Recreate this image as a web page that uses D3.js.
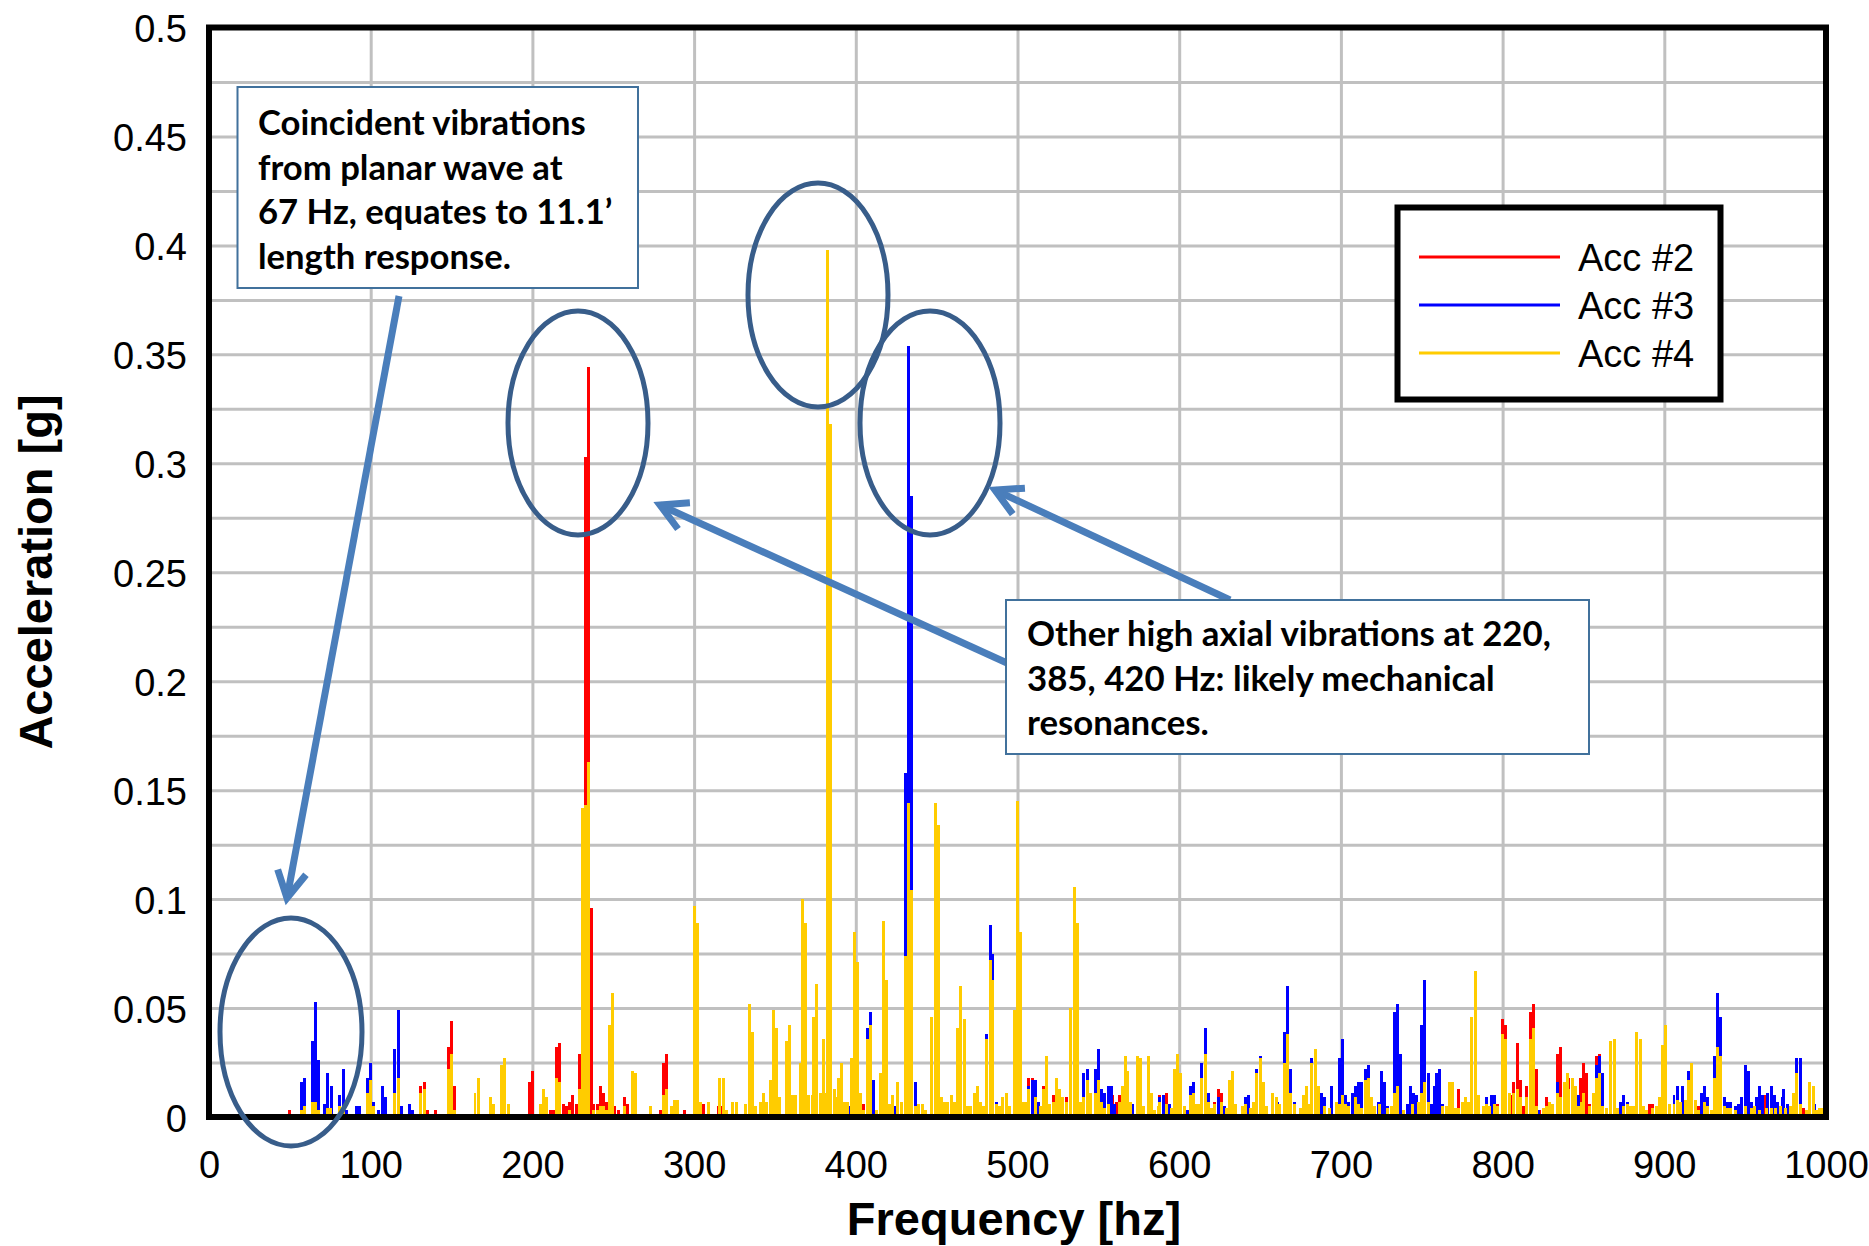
<!DOCTYPE html>
<html>
<head>
<meta charset="utf-8">
<script src="https://cdn.jsdelivr.net/npm/d3@7"></script>
<style>
  html, body { margin: 0; padding: 0; background: #fff; }
  svg { display: block; }
  .tick-label { font-family: "Liberation Sans", Arial, sans-serif; font-size: 38px; fill: #000; }
  .axis-title { font-family: "Liberation Sans", Arial, sans-serif; font-weight: bold; font-size: 47px; fill: #000; }
  .note { font-family: Lato, "Open Sans", sans-serif; font-weight: bold; fill: #000; }
</style>
</head>
<body>
<svg id="chart" width="1869" height="1246"></svg>
<script>
// ---- Spectrum data: [frequency (Hz), acceleration (g)] ----
const acc2 = [
  [50,0.003],[64,0.026],[65,0.026],[71.5,0.006],[73,0.004],[100,0.005],[131,0.014],[133,0.016],[135,0.003],[140,0.003],
  [148,0.032],[150,0.044],[152,0.014],[183,0.006],[198,0.016],[200,0.021],[209,0.003],[211,0.003],[213,0.003],[215,0.032],
  [217,0.034],[219,0.006],[221,0.005],[223,0.007],[225,0.010],[227,0.006],[229,0.029],[232.8,0.303],[234.7,0.344],[236.5,0.096],
  [238,0.006],[240,0.006],[242,0.014],[244,0.011],[246,0.007],[248,0.005],[251,0.005],[253,0.003],[257,0.009],[259,0.006],
  [264,0.004],[279,0.003],[281,0.025],[283,0.029],[290,0.006],[294,0.003],[304,0.005],[306,0.006],[315,0.005],[317,0.005],
  [349,0.009],[362,0.003],[367,0.013],[371,0.003],[376,0.020],[378,0.005],[382.5,0.018],[384.5,0.011],[387,0.007],[388,0.006],
  [389,0.007],[405,0.006],[407,0.009],[409,0.016],[413,0.003],[432.5,0.158],[441,0.003],[449,0.038],[463,0.017],[507,0.018],
  [509,0.018],[516,0.014],[522,0.010],[524,0.010],[528,0.009],[530,0.009],[535,0.042],[550,0.020],[559,0.010],[561,0.007],
  [563,0.010],[581,0.010],[583,0.006],[588,0.010],[590,0.010],[592,0.011],[622,0.007],[624,0.013],[626,0.011],[684,0.014],
  [735,0.029],[752,0.020],[773,0.013],[779,0.006],[783,0.009],[793,0.009],[795,0.009],[797,0.006],[800,0.045],[802,0.042],
  [805,0.010],[807,0.016],[809,0.034],[811,0.017],[813,0.005],[815,0.014],[817,0.048],[819,0.052],[821,0.022],[823,0.003],
  [827,0.009],[834,0.029],[836,0.032],[838,0.009],[841,0.018],[848,0.018],[850,0.025],[852,0.020],[854,0.006],[858,0.028],
  [860,0.029],[875,0.007],[891,0.006],[893,0.006],[921,0.005],[923,0.005],[933,0.014],[950,0.009],[952,0.007],[962,0.010],
  [982,0.013],[986,0.004],[996,0.003]
];

const acc3 = [
  [57,0.016],[59,0.018],[64,0.035],[66,0.053],[68,0.026],[71.5,0.006],[73.5,0.020],[75.5,0.014],[81,0.010],[83,0.022],
  [85,0.003],[91,0.005],[93,0.005],[98,0.018],[100,0.025],[102,0.007],[105,0.003],[107,0.014],[109,0.009],[115,0.031],
  [117,0.049],[119,0.005],[124,0.006],[126,0.003],[148,0.009],[150,0.009],[174,0.003],[207,0.006],[229,0.003],[231,0.013],
  [233,0.039],[249,0.003],[262,0.005],[264,0.005],[290,0.005],[302,0.007],[326,0.003],[334,0.006],[336,0.003],[343,0.005],
  [345,0.003],[349,0.017],[351,0.007],[359,0.014],[362,0.005],[366,0.003],[367,0.025],[369,0.007],[371,0.007],[373,0.007],
  [374,0.006],[376,0.034],[378,0.009],[382.5,0.039],[384.5,0.018],[387,0.006],[394,0.005],[396,0.005],[399.5,0.027],[401,0.007],
  [403,0.007],[407,0.041],[409,0.048],[411,0.017],[417,0.020],[419,0.006],[421,0.006],[424,0.005],[426,0.011],[428,0.005],
  [430.5,0.158],[432.5,0.354],[434.5,0.285],[437,0.016],[439,0.005],[447,0.046],[449,0.046],[451,0.007],[455,0.007],[457,0.003],
  [461,0.003],[463,0.016],[474,0.003],[477,0.003],[481,0.038],[483,0.088],[484.5,0.075],[487,0.007],[493,0.005],[498,0.003],
  [500,0.049],[507,0.014],[509,0.017],[511,0.017],[513,0.007],[518,0.011],[535,0.049],[539,0.007],[541,0.020],[543,0.022],
  [545,0.009],[548,0.022],[550,0.031],[552,0.013],[554,0.011],[556,0.014],[558,0.014],[560,0.006],[566,0.011],[571,0.006],
  [574,0.011],[581,0.011],[588,0.009],[590,0.010],[594,0.006],[599,0.016],[603,0.005],[605,0.003],[607,0.014],[609,0.016],
  [612,0.003],[614,0.025],[616.5,0.041],[618,0.011],[624,0.009],[628,0.005],[641,0.009],[643,0.010],[646,0.005],[648,0.022],
  [650,0.028],[658,0.006],[661,0.007],[665,0.039],[667,0.060],[669,0.022],[671,0.007],[677,0.005],[682,0.027],[684,0.031],
  [688,0.011],[690,0.009],[694,0.014],[699,0.027],[701,0.036],[703,0.010],[705,0.007],[707,0.011],[709,0.014],[711,0.016],
  [713,0.016],[715,0.022],[717,0.024],[721,0.005],[723,0.007],[725,0.021],[727,0.016],[729,0.005],[733,0.048],[735,0.052],
  [737,0.029],[741,0.006],[743,0.014],[745,0.011],[747,0.010],[748,0.006],[750,0.042],[752,0.063],[754,0.020],[756,0.006],
  [758,0.014],[759,0.020],[761,0.022],[763,0.006],[766,0.003],[777,0.005],[783,0.010],[785,0.010],[790,0.009],[793,0.010],
  [795,0.010],[802,0.011],[807,0.003],[822,0.003],[834,0.016],[847,0.010],[856,0.006],[858,0.024],[860,0.028],[862,0.020],
  [873,0.007],[875,0.010],[877,0.007],[883,0.006],[885,0.004],[895,0.005],[899,0.010],[901,0.007],[906,0.010],[908,0.014],
  [911,0.014],[915,0.021],[917,0.025],[923,0.011],[925,0.014],[927,0.009],[931,0.028],[933,0.057],[935,0.046],[937,0.009],
  [939,0.007],[941,0.007],[944,0.005],[946,0.006],[948,0.009],[950,0.024],[952,0.021],[954,0.007],[957,0.009],[959,0.014],
  [961,0.010],[964,0.011],[966,0.014],[968,0.010],[970,0.007],[973,0.009],[974,0.013],[976,0.006],[982,0.027],[984,0.027],
  [993,0.006],[998,0.003]
];

const acc4 = [
  [57,0.003],[59,0.005],[64,0.007],[66,0.007],[68,0.003],[73,0.004],[75,0.004],[81,0.005],[83,0.005],[98,0.011],
  [100,0.017],[102,0.005],[115,0.011],[117,0.018],[131,0.011],[133,0.013],[148,0.022],[150,0.029],[152,0.003],[164.5,0.011],
  [166.5,0.018],[174,0.009],[176,0.006],[181,0.024],[183,0.027],[185,0.006],[205,0.006],[207,0.013],[209,0.009],[215,0.018],
  [217,0.016],[223,0.003],[229,0.013],[231,0.142],[232.8,0.143],[234.7,0.163],[238,0.003],[240,0.003],[242,0.005],[244,0.005],
  [246,0.003],[247.5,0.042],[249.5,0.057],[257,0.005],[262,0.021],[264,0.020],[273,0.005],[281,0.010],[283,0.013],[286,0.005],
  [288,0.008],[290,0.008],[300,0.097],[302,0.089],[304,0.007],[309,0.007],[316,0.018],[318,0.018],[320,0.003],[324,0.007],
  [326,0.007],[332,0.006],[334,0.052],[336,0.039],[338,0.005],[341,0.007],[343,0.011],[345,0.007],[347,0.017],[349,0.049],
  [351,0.041],[353,0.009],[357,0.035],[359,0.042],[361,0.010],[363,0.010],[366,0.025],[367,0.100],[369,0.089],[371,0.010],
  [373,0.010],[374,0.046],[376,0.061],[378,0.011],[380,0.036],[381,0.011],[382.5,0.398],[384.5,0.318],[387,0.013],[388,0.009],
  [389,0.018],[391,0.025],[393,0.007],[395,0.007],[397.5,0.027],[399.5,0.085],[401,0.071],[403,0.011],[405,0.003],[407,0.036],
  [409,0.042],[413,0.003],[415,0.020],[417,0.090],[419,0.063],[421,0.006],[423,0.010],[426,0.016],[428,0.007],[430.5,0.074],
  [432.5,0.144],[434.5,0.104],[437,0.005],[439,0.006],[441,0.006],[443,0.003],[447,0.046],[449,0.144],[451,0.134],[453,0.009],
  [455,0.007],[457,0.007],[459,0.010],[461,0.007],[463,0.041],[465,0.060],[467,0.045],[469,0.005],[471,0.005],[473.5,0.011],
  [475,0.014],[477,0.007],[479,0.005],[481,0.036],[483,0.072],[484.5,0.063],[487,0.006],[489,0.005],[491,0.009],[493,0.011],
  [495,0.005],[498,0.049],[500,0.145],[502,0.085],[504,0.007],[505,0.007],[507,0.013],[511,0.009],[514,0.005],[516,0.013],
  [518,0.028],[520,0.006],[522,0.007],[524,0.018],[526,0.013],[528,0.009],[530,0.007],[533,0.050],[535,0.1055],[537,0.089],
  [539,0.007],[541,0.009],[543,0.017],[545,0.011],[548,0.011],[550,0.017],[552,0.007],[554,0.004],[556,0.006],[563,0.007],
  [565,0.014],[566.5,0.028],[568,0.021],[570,0.007],[574,0.028],[576,0.027],[578,0.005],[581,0.028],[583,0.011],[585,0.003],
  [587,0.005],[588,0.007],[592,0.006],[595,0.004],[597,0.022],[599,0.029],[601,0.020],[603,0.005],[607,0.010],[609,0.011],
  [611,0.006],[612,0.006],[614,0.018],[616.5,0.029],[618,0.007],[620,0.004],[622,0.006],[626,0.007],[629,0.004],[631,0.017],
  [633,0.021],[635,0.006],[639,0.005],[641,0.006],[644,0.004],[646,0.007],[648,0.020],[650,0.027],[652,0.016],[654,0.005],
  [658,0.011],[660,0.009],[662,0.006],[665,0.025],[667,0.038],[669,0.011],[671,0.006],[675,0.004],[677,0.010],[679,0.014],
  [680,0.006],[682,0.025],[684,0.031],[686,0.014],[690,0.005],[693,0.004],[697,0.007],[699,0.006],[701,0.010],[703,0.006],
  [705,0.005],[709,0.009],[711,0.006],[713,0.004],[715,0.017],[717,0.018],[719,0.009],[721,0.005],[724,0.006],[729,0.004],
  [731,0.005],[733,0.011],[735,0.014],[739,0.003],[744,0.006],[748,0.007],[750,0.011],[752,0.016],[754,0.007],[763,0.005],
  [765,0.005],[767,0.016],[769,0.016],[771,0.004],[773,0.004],[775,0.007],[777,0.009],[779,0.007],[781,0.046],[783,0.067],
  [785,0.010],[788,0.005],[790,0.006],[792,0.005],[795,0.006],[797,0.005],[800,0.038],[802,0.036],[804,0.011],[807,0.011],
  [809,0.013],[811,0.009],[815,0.009],[817,0.036],[819,0.041],[821,0.005],[825,0.004],[827,0.005],[829,0.007],[831,0.006],
  [834,0.011],[836,0.009],[838,0.016],[840,0.020],[841,0.013],[843,0.018],[845,0.014],[847,0.005],[849,0.007],[850,0.011],
  [854,0.005],[856,0.011],[858,0.018],[860,0.020],[862,0.005],[864,0.004],[867,0.035],[869,0.036],[871,0.004],[875,0.005],
  [877,0.006],[879,0.005],[881,0.005],[883,0.039],[885,0.036],[887,0.005],[889,0.003],[893,0.004],[895,0.005],[897,0.009],
  [899,0.033],[901,0.042],[903,0.006],[906,0.006],[908,0.008],[910,0.007],[913,0.008],[915,0.017],[917,0.025],[919,0.008],
  [921,0.003],[925,0.007],[927,0.005],[929,0.003],[931,0.018],[933,0.032],[935,0.028],[937,0.005],[939,0.004],[941,0.004],
  [944,0.003],[950,0.005],[954,0.004],[956,0.005],[959,0.003],[963,0.004],[966,0.004],[969,0.004],[972,0.005],[975,0.004],
  [978,0.005],[980,0.011],[982,0.020],[984,0.006],[988,0.003],[990,0.016],[992,0.014],[994,0.003],[996,0.004],[998,0.004]
];

const seriesNames = ["Acc #2", "Acc #3", "Acc #4"];
const seriesColors = ["#ff0000", "#0000ff", "#ffcc00"];
const seriesData = [acc2, acc3, acc4];

const freqTicks = [0, 100, 200, 300, 400, 500, 600, 700, 800, 900, 1000];
const accelTicks = [0, 0.05, 0.1, 0.15, 0.2, 0.25, 0.3, 0.35, 0.4, 0.45, 0.5];
const accelGrid = d3.range(0, 0.5001, 0.025);

const noteLeft = ["Coincident vibrations", "from planar wave at", "67 Hz, equates to 11.1\u2019", "length response."];
const noteRight = ["Other high axial vibrations at 220,", "385, 420 Hz: likely mechanical", "resonances."];

// ---- Layout ----
const svg = d3.select("#chart");
const plot = { left: 209, right: 1826, top: 27.5, bottom: 1117 };
const x = d3.scaleLinear().domain([0, 1000]).range([plot.left, plot.right]);
const y = d3.scaleLinear().domain([0, 0.5]).range([plot.bottom, plot.top]);
const binWidth = 1.85; // spectral line width in Hz

svg.append("rect").attr("width", 1869).attr("height", 1246).attr("fill", "#fff");

// Gridlines
const grid = svg.append("g");
grid.append("g")
  .attr("transform", `translate(${plot.left},0)`)
  .call(d3.axisLeft(y).tickValues(accelGrid).tickSize(-(plot.right - plot.left)).tickFormat(""))
  .call(g => g.select(".domain").remove())
  .call(g => g.selectAll("line").attr("stroke", "#c0c0c0").attr("stroke-width", 3));
grid.append("g")
  .attr("transform", `translate(0,${plot.bottom})`)
  .call(d3.axisBottom(x).tickValues(freqTicks).tickSize(-(plot.bottom - plot.top)).tickFormat(""))
  .call(g => g.select(".domain").remove())
  .call(g => g.selectAll("line").attr("stroke", "#c0c0c0").attr("stroke-width", 3));

// Spectral lines, drawn Acc #2, #3, #4 in order
svg.append("clipPath").attr("id", "plotClip")
  .append("rect").attr("x", plot.left).attr("y", plot.top)
  .attr("width", plot.right - plot.left).attr("height", plot.bottom - plot.top);
const marks = svg.append("g").attr("clip-path", "url(#plotClip)");
const w = x(binWidth) - x(0);
seriesData.forEach((data, i) => {
  marks.append("g")
    .attr("fill", seriesColors[i])
    .attr("shape-rendering", "crispEdges")
    .selectAll("rect")
    .data(data)
    .join("rect")
    .attr("x", d => x(d[0]) - w / 2)
    .attr("width", w)
    .attr("y", d => y(d[1]))
    .attr("height", d => y(0) - y(d[1]));
});

// Plot frame
svg.append("rect")
  .attr("x", plot.left).attr("y", plot.top)
  .attr("width", plot.right - plot.left).attr("height", plot.bottom - plot.top)
  .attr("fill", "none").attr("stroke", "#000").attr("stroke-width", 6);

// Axis tick labels
svg.append("g")
  .attr("transform", `translate(${plot.left},0)`)
  .call(d3.axisLeft(y).tickValues(accelTicks).tickSize(0).tickPadding(22).tickFormat(d => String(+d.toFixed(2))))
  .call(g => g.select(".domain").remove())
  .call(g => g.selectAll("text").attr("class", "tick-label").attr("font-size", null).attr("font-family", null)
    .attr("dy", "14px"));
svg.append("g")
  .attr("transform", `translate(0,${plot.bottom})`)
  .call(d3.axisBottom(x).tickValues(freqTicks).tickSize(0).tickPadding(0).tickFormat(d => String(d)))
  .call(g => g.select(".domain").remove())
  .call(g => g.selectAll("text").attr("class", "tick-label").attr("font-size", null).attr("font-family", null)
    .attr("y", 61).attr("dy", 0));
svg.selectAll(".tick-label").attr("fill", "#000");

// Axis titles
svg.append("text").attr("class", "axis-title")
  .attr("x", 1014).attr("y", 1235).attr("text-anchor", "middle")
  .text("Frequency [hz]");
svg.append("text").attr("class", "axis-title")
  .attr("transform", "translate(52,572) rotate(-90)").attr("text-anchor", "middle")
  .text("Acceleration [g]");

// Legend
const legend = svg.append("g");
legend.append("rect").attr("x", 1397.5).attr("y", 207.5).attr("width", 323).attr("height", 192)
  .attr("fill", "#fff").attr("stroke", "#000").attr("stroke-width", 6);
seriesNames.forEach((name, i) => {
  const ly = 257 + i * 48;
  legend.append("line").attr("x1", 1419).attr("x2", 1560).attr("y1", ly).attr("y2", ly)
    .attr("stroke", seriesColors[i]).attr("stroke-width", 3);
  legend.append("text").attr("class", "tick-label").attr("x", 1578).attr("y", ly + 14).text(name);
});

// Callout ellipses
const ellipseColor = "#385d8a";
[[291, 1032, 71, 114], [578, 423, 70, 112], [818, 295, 70, 112], [930, 423, 70, 112]].forEach(e => {
  svg.append("ellipse").attr("cx", e[0]).attr("cy", e[1]).attr("rx", e[2]).attr("ry", e[3])
    .attr("fill", "none").attr("stroke", ellipseColor).attr("stroke-width", 5);
});

// Callout arrows with open heads
const arrowColor = "#4a7ebb";
function arrow(x1, y1, x2, y2) {
  const g = svg.append("g").attr("stroke", arrowColor).attr("stroke-width", 7)
    .attr("fill", "none").attr("stroke-linecap", "butt").attr("stroke-linejoin", "miter");
  g.append("line").attr("x1", x1).attr("y1", y1).attr("x2", x2).attr("y2", y2);
  const a = Math.atan2(y2 - y1, x2 - x1), len = 30, spread = 0.5;
  const p1 = [x2 - len * Math.cos(a - spread), y2 - len * Math.sin(a - spread)];
  const p2 = [x2 - len * Math.cos(a + spread), y2 - len * Math.sin(a + spread)];
  g.append("path").attr("d", `M${p1[0]},${p1[1]}L${x2},${y2}L${p2[0]},${p2[1]}`);
}
arrow(399, 296, 287, 898);
arrow(1007, 663, 660, 505);
arrow(1230, 600, 995, 490);

// Text callouts
function callout(bx, by, bw, bh, lines, tx, ty, lh, firstWidth) {
  const g = svg.append("g");
  g.append("rect").attr("x", bx).attr("y", by).attr("width", bw).attr("height", bh)
    .attr("fill", "#fff").attr("stroke", "#41719c").attr("stroke-width", 2);
  const texts = g.selectAll("text").data(lines).join("text")
    .attr("class", "note").attr("x", tx).attr("y", (d, i) => ty + i * lh)
    .attr("font-size", 32).text(d => d);
  const measured = texts.node().getComputedTextLength();
  texts.attr("font-size", 32 * firstWidth / measured);
}
callout(237.5, 87, 400.5, 201, noteLeft, 258, 135, 44.5, 328);
callout(1006, 600, 583, 154, noteRight, 1027, 646, 44.5, 524);
</script>
</body>
</html>
